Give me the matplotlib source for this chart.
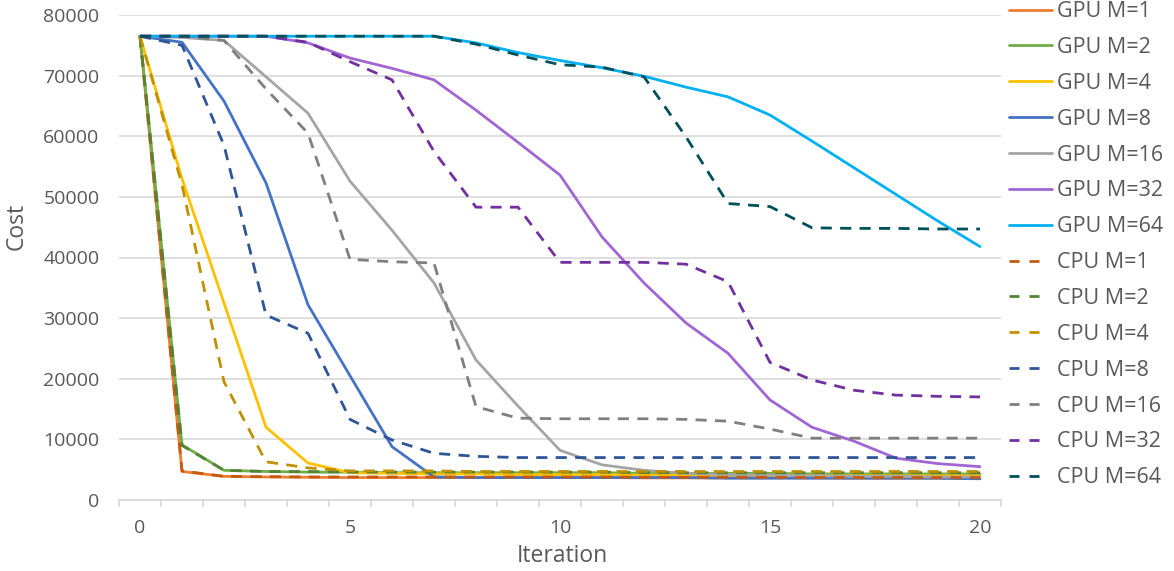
import matplotlib
matplotlib.use("Agg")
import matplotlib.pyplot as plt
import numpy as np

iterations = list(range(21))

gpu_m1 = [76500, 4700, 3900, 3800, 3750, 3700, 3700, 3700, 3700, 3700, 3700, 3700, 3650, 3650, 3650, 3650, 3650, 3600, 3600, 3600, 3600]
gpu_m2 = [76500, 9100, 4900, 4700, 4600, 4600, 4500, 4500, 4500, 4500, 4500, 4500, 4400, 4400, 4400, 4400, 4300, 4300, 4300, 4300, 4300]
gpu_m4 = [76500, 53000, 32500, 12000, 6100, 4500, 4400, 4300, 4300, 4200, 4200, 4200, 4100, 4100, 4100, 4000, 4000, 4000, 4000, 4000, 4000]
gpu_m8 = [76500, 75500, 65800, 52300, 32200, 20500, 8800, 3800, 3700, 3700, 3700, 3700, 3700, 3700, 3600, 3600, 3600, 3600, 3600, 3600, 3500]
gpu_m16 = [76500, 76300, 75800, 69800, 63800, 52600, 44500, 35800, 23100, 15500, 8200, 5800, 4900, 4400, 4200, 4100, 4000, 3900, 3900, 3800, 3800]
gpu_m32 = [76500, 76500, 76500, 76500, 75400, 72900, 71200, 69300, 64300, 59000, 53600, 43400, 35800, 29200, 24200, 16500, 12000, 9700, 6900, 6000, 5500]
gpu_m64 = [76500, 76500, 76500, 76500, 76500, 76500, 76500, 76500, 75400, 73800, 72500, 71300, 69900, 68100, 66500, 63500, 59200, 54800, 50400, 46000, 41800]

cpu_m1 = [76500, 4800, 3900, 3850, 3800, 3800, 3800, 3800, 3800, 3800, 3800, 3800, 3750, 3750, 3750, 3750, 3700, 3700, 3700, 3700, 3700]
cpu_m2 = [76500, 9000, 4900, 4700, 4700, 4600, 4600, 4600, 4600, 4600, 4600, 4600, 4500, 4500, 4500, 4500, 4500, 4500, 4500, 4500, 4500]
cpu_m4 = [76500, 52000, 19500, 6300, 5300, 4800, 4800, 4800, 4700, 4700, 4700, 4700, 4700, 4700, 4700, 4700, 4700, 4700, 4700, 4700, 4700]
cpu_m8 = [76500, 75000, 58500, 30500, 27500, 13300, 9900, 7700, 7200, 7000, 7000, 7000, 7000, 7000, 7000, 7000, 7000, 7000, 7000, 7000, 7000]
cpu_m16 = [76500, 76500, 75800, 67800, 60500, 39700, 39300, 39100, 15400, 13500, 13400, 13400, 13400, 13300, 13000, 11700, 10200, 10200, 10200, 10200, 10200]
cpu_m32 = [76500, 76500, 76500, 76500, 75500, 72300, 69300, 57500, 48300, 48300, 39200, 39200, 39200, 38900, 36000, 22700, 19800, 18100, 17300, 17100, 17000]
cpu_m64 = [76500, 76500, 76500, 76500, 76500, 76500, 76500, 76500, 75200, 73400, 71800, 71400, 69800, 59900, 48900, 48400, 44900, 44800, 44800, 44700, 44700]

labels = ["GPU M=1", "GPU M=2", "GPU M=4", "GPU M=8", "GPU M=16", "GPU M=32", "GPU M=64",
          "CPU M=1", "CPU M=2", "CPU M=4", "CPU M=8", "CPU M=16", "CPU M=32", "CPU M=64"]
series = [gpu_m1, gpu_m2, gpu_m4, gpu_m8, gpu_m16, gpu_m32, gpu_m64,
          cpu_m1, cpu_m2, cpu_m4, cpu_m8, cpu_m16, cpu_m32, cpu_m64]
colors = ["#ED7D31", "#70AD47", "#FFC000", "#4472C4", "#A5A5A5", "#A066D3", "#00B0F0",
          "#C55A11", "#548235", "#BF9000", "#2F5597", "#7F7F7F", "#7030A0", "#00505A"]

plt.rcParams['font.family'] = ['Open Sans', 'DejaVu Sans']
text_color = "#595959"
grid_color = "#D9D9D9"

fig = plt.figure(figsize=(11.74, 5.71), dpi=100)
ax = fig.add_axes([119/1174, 1 - 500/571, (1001 - 119)/1174, (500 - 15)/571])

for lab, vals, col in zip(labels, series, colors):
    if lab.startswith("GPU"):
        ax.plot(iterations, vals, color=col, lw=2.0, label=lab, solid_capstyle='round')
    else:
        ax.plot(iterations, vals, color=col, lw=2.0, label=lab, linestyle=(0, (4, 3)),
                dash_capstyle='butt')

ax.set_xlim(-0.5, 20.5)
ax.set_ylim(0, 80000)
ax.set_yticks(np.arange(0, 80001, 10000))
ax.set_xticks([0, 5, 10, 15, 20])
ax.set_xticks(np.arange(-0.5, 20.6, 1), minor=True)
ax.yaxis.grid(True, color=grid_color, lw=1.2)
ax.set_axisbelow(True)
for s in ["top", "right", "left"]:
    ax.spines[s].set_visible(False)
ax.spines["bottom"].set_color(grid_color)
ax.spines["bottom"].set_linewidth(1.2)
ax.tick_params(axis='y', length=0, pad=14, labelsize=14, labelcolor=text_color)
ax.tick_params(axis='x', which='major', length=0, pad=14, labelsize=14, labelcolor=text_color)
ax.tick_params(axis='x', which='minor', length=5, width=1.2, color=grid_color)

ax.set_xlabel("Iteration", fontsize=16.5, color=text_color)
ax.set_ylabel("Cost", fontsize=16.5, color=text_color)
ax.xaxis.set_label_coords(0.503, -0.116)
ax.xaxis.label.set_va('center')
ax.yaxis.set_label_coords(-0.1156, 0.565)
ax.yaxis.label.set_va('center')

leg = ax.legend(loc='upper left', bbox_to_anchor=(1007/1174, 1 + 1/571), bbox_transform=fig.transFigure,
                frameon=False, fontsize=15.5, handlelength=2.0, handletextpad=0.2,
                labelspacing=0.69, borderaxespad=0, borderpad=0.1)
for t in leg.get_texts():
    t.set_color(text_color)
for line, lab in zip(leg.get_lines(), labels):
    if lab.startswith("CPU"):
        line.set_linestyle((0, (3.6, 3.6, 3.6, 12)))

fig.savefig("out.png", dpi=100)
